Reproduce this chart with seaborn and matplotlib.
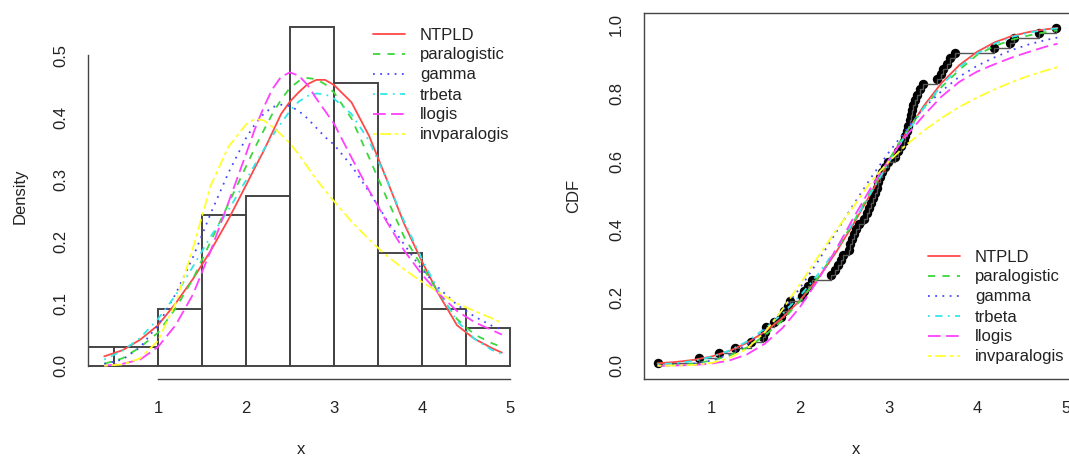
import numpy as np
import pandas as pd
import matplotlib
matplotlib.use('Agg')
import matplotlib.pyplot as plt
import seaborn as sns

#-------------------------------------------------------
# observed sample (sorted), read off the empirical CDF
sample = [0.40, 0.86, 1.08, 1.26, 1.45, 1.58, 1.60, 1.62, 1.71, 1.78,
          1.82, 1.86, 1.89, 2.02, 2.05, 2.09, 2.13, 2.35, 2.40, 2.43,
          2.46, 2.49, 2.55, 2.57, 2.59, 2.61, 2.63, 2.67, 2.72, 2.76,
          2.78, 2.80, 2.83, 2.85, 2.87, 2.88, 2.90, 2.93, 2.96, 2.99,
          3.07, 3.11, 3.14, 3.17, 3.19, 3.21, 3.22, 3.24, 3.25, 3.27,
          3.28, 3.30, 3.32, 3.35, 3.39, 3.55, 3.59, 3.62, 3.66, 3.70,
          3.75, 4.19, 4.37, 4.42, 4.70, 4.89]
breaks = [0, 0.5, 1, 1.5, 2, 2.5, 3, 3.5, 4, 4.5, 5]

dist_names = ['NTPLD', 'paralogistic', 'gamma', 'trbeta', 'llogis', 'invparalogis']

# fitted densities
dens_x = [0.39, 0.6, 0.8, 1.0, 1.2, 1.4, 1.6, 1.8, 2.0, 2.1, 2.2, 2.3, 2.4, 2.5, 2.6,
          2.7, 2.8, 2.9, 3.0, 3.2, 3.4, 3.6, 3.8, 4.0, 4.2, 4.4, 4.6, 4.8, 4.91]
dens_ntpld = [0.015, 0.025, 0.042, 0.065, 0.10, 0.14, 0.185, 0.235, 0.29, 0.318, 0.345, 0.375,
              0.405, 0.425, 0.44, 0.453, 0.46, 0.46, 0.452, 0.424, 0.37, 0.30, 0.228, 0.168,
              0.113, 0.065, 0.043, 0.028, 0.021]
dens_paralogistic = [0.003, 0.012, 0.03, 0.053, 0.092, 0.14, 0.2, 0.26, 0.32, 0.35, 0.378, 0.405,
                     0.428, 0.447, 0.458, 0.463, 0.461, 0.453, 0.44, 0.398, 0.335, 0.27, 0.207,
                     0.16, 0.115, 0.075, 0.05, 0.036, 0.03]
dens_gamma = [0.003, 0.01, 0.03, 0.065, 0.115, 0.175, 0.245, 0.31, 0.366, 0.388, 0.405, 0.416,
              0.42, 0.418, 0.41, 0.398, 0.383, 0.368, 0.356, 0.322, 0.28, 0.235, 0.195, 0.155,
              0.124, 0.098, 0.079, 0.064, 0.058]
dens_trbeta = [0.01, 0.024, 0.045, 0.075, 0.113, 0.16, 0.208, 0.25, 0.298, 0.323, 0.347, 0.37,
               0.39, 0.41, 0.425, 0.434, 0.438, 0.437, 0.43, 0.405, 0.362, 0.3, 0.232, 0.172,
               0.117, 0.072, 0.043, 0.025, 0.019]
dens_llogis = [0.0, 0.003, 0.01, 0.03, 0.065, 0.115, 0.185, 0.262, 0.34, 0.38, 0.415, 0.445,
               0.465, 0.472, 0.467, 0.452, 0.43, 0.41, 0.39, 0.335, 0.282, 0.232, 0.185, 0.147,
               0.115, 0.088, 0.07, 0.057, 0.05]
dens_invparalogis = [0.0, 0.002, 0.012, 0.04, 0.1, 0.19, 0.29, 0.352, 0.388, 0.397, 0.395, 0.385,
                     0.372, 0.358, 0.34, 0.32, 0.3, 0.282, 0.265, 0.232, 0.203, 0.177, 0.155,
                     0.135, 0.117, 0.1, 0.088, 0.076, 0.069]

# fitted CDFs
cdf_x = [0.39, 0.6, 0.8, 1.0, 1.2, 1.4, 1.6, 1.8, 2.0, 2.2, 2.4, 2.6, 2.8, 3.0, 3.2, 3.4,
         3.6, 3.8, 4.0, 4.2, 4.4, 4.6, 4.8, 4.91]
cdf_ntpld = [0.007, 0.011, 0.017, 0.027, 0.043, 0.067, 0.099, 0.14, 0.192, 0.255, 0.33, 0.414,
             0.505, 0.597, 0.684, 0.763, 0.83, 0.882, 0.921, 0.949, 0.968, 0.98, 0.988, 0.991]
cdf_paralogistic = [0.0, 0.0015, 0.006, 0.015, 0.029, 0.053, 0.088, 0.133, 0.19, 0.257, 0.335,
                    0.42, 0.512, 0.603, 0.686, 0.758, 0.818, 0.868, 0.912, 0.938, 0.957, 0.97,
                    0.98, 0.984]
cdf_gamma = [0.0005, 0.002, 0.006, 0.015, 0.033, 0.062, 0.104, 0.16, 0.228, 0.305, 0.388, 0.471,
             0.551, 0.625, 0.692, 0.757, 0.806, 0.848, 0.88, 0.905, 0.927, 0.944, 0.957, 0.963]
cdf_trbeta = [0.004, 0.007, 0.014, 0.026, 0.044, 0.071, 0.108, 0.152, 0.205, 0.267, 0.339, 0.42,
              0.507, 0.595, 0.68, 0.757, 0.823, 0.876, 0.916, 0.945, 0.965, 0.978, 0.987, 0.99]
cdf_llogis = [0.0, 0.0005, 0.002, 0.006, 0.015, 0.033, 0.064, 0.11, 0.172, 0.25, 0.338, 0.432,
              0.522, 0.603, 0.675, 0.735, 0.79, 0.833, 0.863, 0.885, 0.905, 0.922, 0.938, 0.945]
cdf_invparalogis = [0.0, 0.0003, 0.002, 0.008, 0.022, 0.05, 0.098, 0.164, 0.24, 0.318, 0.395,
                    0.465, 0.54, 0.598, 0.648, 0.69, 0.727, 0.759, 0.787, 0.811, 0.833, 0.852,
                    0.868, 0.876]

#-------------------------------------------------------
def long_frame(xs, series, col):
    frames = []
    for name, ys in zip(dist_names, series):
        frames.append(pd.DataFrame({'x': xs, col: ys, 'dist': name}))
    return pd.concat(frames, ignore_index=True)


def r_axis_style(ax, pad_x, pad_y):
    ax.tick_params(direction='out', length=6.5, width=1.0, color='#444444',
                   labelsize=12, labelcolor='#222222')
    ax.tick_params(axis='x', pad=pad_x)
    ax.tick_params(axis='y', pad=pad_y)
    plt.setp(ax.get_yticklabels(), rotation=90, va='center', ha='right')
    for sp in ax.spines.values():
        sp.set_color('#444444')
        sp.set_linewidth(1.0)


def main():
    sns.set_theme(style='white')
    plt.rcParams['font.family'] = ['Liberation Sans', 'DejaVu Sans']

    colors = {'NTPLD': '#ff4848', 'paralogistic': '#3ad83a', 'gamma': '#4848ff',
              'trbeta': '#30e8e8', 'llogis': '#ff40ff', 'invparalogis': '#ffff30'}
    dashes = {'NTPLD': '', 'paralogistic': (4, 4), 'gamma': (1, 3),
              'trbeta': (1, 3, 4, 3), 'llogis': (7, 3), 'invparalogis': (2, 2, 6, 2)}

    dens = long_frame(dens_x, [dens_ntpld, dens_paralogistic, dens_gamma, dens_trbeta,
                               dens_llogis, dens_invparalogis], 'density')
    cdfs = long_frame(cdf_x, [cdf_ntpld, cdf_paralogistic, cdf_gamma, cdf_trbeta,
                              cdf_llogis, cdf_invparalogis], 'cdf')

    fig = plt.figure(figsize=(10.69, 4.59), dpi=100)
    W, H = 1069.0, 459.0
    ax1 = fig.add_axes([87.9 / W, 1 - 379.3 / H, (526.1 - 87.9) / W, (379.3 - 13.4) / H])
    ax2 = fig.add_axes([644 / W, 1 - 379.3 / H, (1075 - 644) / W, (379.3 - 13.0) / H])

    # left: histogram + densities
    sns.histplot(x=sample, bins=breaks, stat='density', fill=False, color='#444444',
                 linewidth=1.4, ax=ax1)
    sns.lineplot(data=dens, x='x', y='density', hue='dist', style='dist',
                 palette=colors, dashes=dashes, hue_order=dist_names,
                 style_order=dist_names, linewidth=1.3, sort=False,
                 estimator=None, ax=ax1)
    ax1.set_xlim(0.2044, 5.185)
    ax1.set_ylim(-0.0219, 0.567)
    ax1.set_xticks([1, 2, 3, 4, 5])
    ax1.set_xticklabels(['1', '2', '3', '4', '5'])
    ax1.set_yticks([0, 0.1, 0.2, 0.3, 0.4, 0.5])
    ax1.set_yticklabels(['0.0', '0.1', '0.2', '0.3', '0.4', '0.5'])
    sns.despine(ax=ax1)
    ax1.spines['left'].set_bounds(0, 0.5)
    ax1.spines['bottom'].set_bounds(1, 5)
    r_axis_style(ax1, 9.3, 7.8)
    ax1.set_xlabel('x', fontsize=12, color='#222222')
    ax1.set_ylabel('Density', fontsize=12, color='#222222')
    ax1.xaxis.set_label_coords(0.486, -0.172)
    ax1.yaxis.set_label_coords(-0.1367, 0.5)
    h, l = ax1.get_legend_handles_labels()
    ax1.legend(h, l, loc='upper left', bbox_to_anchor=(373 / W, 1 - 27.5 / H),
               bbox_transform=fig.transFigure, frameon=False, fontsize=12,
               handlelength=1.92, handletextpad=0.9, labelspacing=0.3,
               borderpad=0, borderaxespad=0, labelcolor='#222222')

    # right: empirical CDF + fitted CDFs
    n = len(sample)
    ecdf_y = (np.arange(1, n + 1) - 0.5) / n
    sns.lineplot(x=sample, y=ecdf_y, drawstyle='steps-post', color='#555555',
                 linewidth=1.0, sort=False, estimator=None, ax=ax2)
    sns.scatterplot(x=sample, y=ecdf_y, color='black', s=46, linewidth=0, ax=ax2)
    sns.lineplot(data=cdfs, x='x', y='cdf', hue='dist', style='dist',
                 palette=colors, dashes=dashes, hue_order=dist_names,
                 style_order=dist_names, linewidth=1.3, sort=False,
                 estimator=None, ax=ax2)
    ax2.set_xlim(0.237, 5.107)
    ax2.set_ylim(-0.04, 1.035)
    ax2.set_xticks([1, 2, 3, 4, 5])
    ax2.set_xticklabels(['1', '2', '3', '4', '5'])
    ax2.set_yticks([0, 0.2, 0.4, 0.6, 0.8, 1.0])
    ax2.set_yticklabels(['0.0', '0.2', '0.4', '0.6', '0.8', '1.0'])
    ax2.spines['right'].set_visible(False)
    r_axis_style(ax2, 9.3, 7.8)
    ax2.set_xlabel('x', fontsize=12, color='#222222')
    ax2.set_ylabel('CDF', fontsize=12, color='#222222')
    ax2.xaxis.set_label_coords(0.493, -0.172 * 365.9 / 366.3)
    ax2.yaxis.set_label_coords(-0.146, 0.5)
    h, l = ax2.get_legend_handles_labels()
    ax2.legend(h, l, loc='upper left', bbox_to_anchor=(928 / W, 1 - 249.5 / H),
               bbox_transform=fig.transFigure, frameon=False, fontsize=12,
               handlelength=1.92, handletextpad=0.9, labelspacing=0.3,
               borderpad=0, borderaxespad=0, labelcolor='#222222')

    fig.savefig('out.png', dpi=100)


#-------------------------------------------------------
if __name__ == '__main__':
    main()
